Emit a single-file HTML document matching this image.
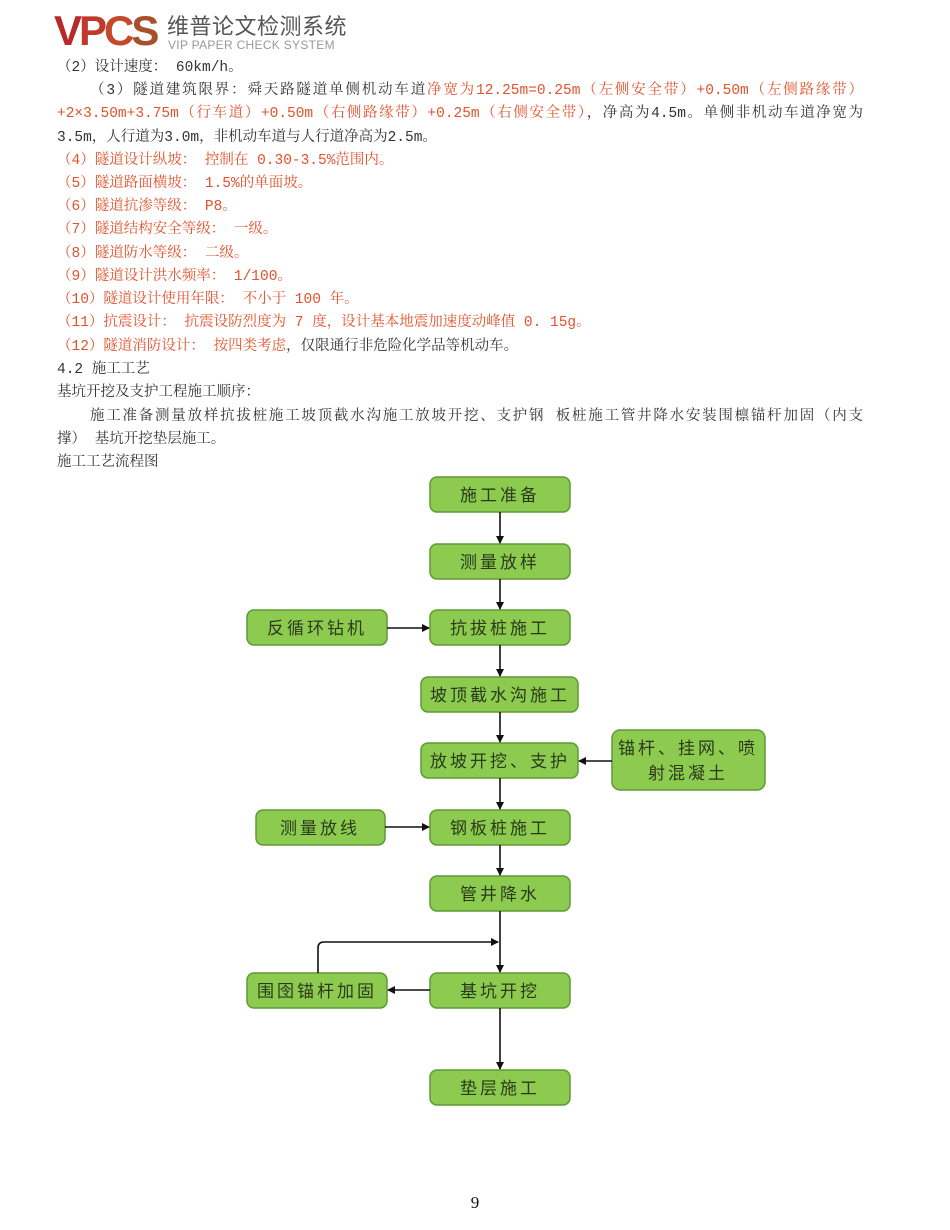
<!DOCTYPE html>
<html><head><meta charset="utf-8"><style>
body{margin:0;width:950px;height:1230px;background:#fff;position:relative;overflow:hidden;font-family:"Liberation Mono","Noto Serif CJK SC",serif;color:#333;}
.l{position:absolute;font-size:14.5px;line-height:20px;white-space:nowrap;}
.j{white-space:normal;text-align:justify;text-align-last:justify;}
.r{color:#e2532d;}
svg text{font-family:"Noto Sans CJK SC",sans-serif;font-size:17px;fill:#2a3a1a;}
</style></head><body>
<div style="position:absolute;left:54px;top:9px;font-family:'Liberation Sans',sans-serif;font-weight:bold;font-size:42px;letter-spacing:-3px;color:#b82a2a;line-height:44px">V<span style="color:#c0392b">P</span><span style="color:#c4482c">C</span><span style="color:#a6512a">S</span></div>
<div style="position:absolute;left:167px;top:11px;font-family:'Noto Sans CJK SC',sans-serif;font-size:22px;color:#555;line-height:28px;letter-spacing:0.5px">维普论文检测系统</div>
<div style="position:absolute;left:168px;top:38px;font-family:'Liberation Sans',sans-serif;font-size:12px;color:#999;line-height:14px;letter-spacing:0.3px">VIP PAPER CHECK SYSTEM</div>

<div class="l" style="left:57px;top:58px">（2）设计速度： 60km/h。</div>
<div class="l j" style="left:90px;top:81px;width:773px">（3）隧道建筑限界：舜天路隧道单侧机动车道<span class="r">净宽为12.25m=0.25m（左侧安全带）+0.50m（左侧路缘带）</span></div>
<div class="l j" style="left:57px;top:104px;width:806px"><span class="r">+2×3.50m+3.75m（行车道）+0.50m（右侧路缘带）+0.25m（右侧安全带）</span>，净高为4.5m。单侧非机动车道净宽为</div>
<div class="l" style="left:57px;top:128px">3.5m，人行道为3.0m，非机动车道与人行道净高为2.5m。</div>
<div class="l r" style="left:57px;top:151px">（4）隧道设计纵坡： 控制在 0.30-3.5%范围内。</div>
<div class="l r" style="left:57px;top:174px">（5）隧道路面横坡： 1.5%的单面坡。</div>
<div class="l r" style="left:57px;top:197px">（6）隧道抗渗等级： P8。</div>
<div class="l r" style="left:57px;top:220px">（7）隧道结构安全等级： 一级。</div>
<div class="l r" style="left:57px;top:244px">（8）隧道防水等级： 二级。</div>
<div class="l r" style="left:57px;top:267px">（9）隧道设计洪水频率： 1/100。</div>
<div class="l r" style="left:57px;top:290px">（10）隧道设计使用年限： 不小于 100 年。</div>
<div class="l r" style="left:57px;top:313px">（11）抗震设计： 抗震设防烈度为 7 度，设计基本地震加速度动峰值 0. 15g。</div>
<div class="l" style="left:57px;top:337px"><span class="r">（12）隧道消防设计： 按四类考虑</span>，仅限通行非危险化学品等机动车。</div>
<div class="l" style="left:57px;top:360px">4.2 施工工艺</div>
<div class="l" style="left:57px;top:383px">基坑开挖及支护工程施工顺序：</div>
<div class="l j" style="left:90px;top:407px;width:773px">施工准备测量放样抗拔桩施工坡顶截水沟施工放坡开挖、支护钢 板桩施工管井降水安装围檩锚杆加固（内支</div>
<div class="l" style="left:57px;top:430px">撑） 基坑开挖垫层施工。</div>
<div class="l" style="left:57px;top:453px">施工工艺流程图</div>

<svg width="950" height="1230" style="position:absolute;left:0;top:0">
<defs><marker id="a" markerWidth="8" markerHeight="8" refX="7" refY="4" orient="auto" markerUnits="userSpaceOnUse"><path d="M0,0 L8,4 L0,8z" fill="#111"/></marker></defs>
<g fill="#8ccb4f" stroke="#5e9a35" stroke-width="1.5">
<rect x="430" y="477" width="140" height="35" rx="7"/>
<rect x="430" y="544" width="140" height="35" rx="7"/>
<rect x="430" y="610" width="140" height="35" rx="7"/>
<rect x="247" y="610" width="140" height="35" rx="7"/>
<rect x="421" y="677" width="157" height="35" rx="7"/>
<rect x="421" y="743" width="157" height="35" rx="7"/>
<rect x="612" y="730" width="153" height="60" rx="8"/>
<rect x="256" y="810" width="129" height="35" rx="7"/>
<rect x="430" y="810" width="140" height="35" rx="7"/>
<rect x="430" y="876" width="140" height="35" rx="7"/>
<rect x="430" y="973" width="140" height="35" rx="7"/>
<rect x="247" y="973" width="140" height="35" rx="7"/>
<rect x="430" y="1070" width="140" height="35" rx="7"/>
</g>
<g stroke="#111" stroke-width="1.6" fill="none">
<line x1="500" y1="512" x2="500" y2="543" marker-end="url(#a)"/>
<line x1="500" y1="579" x2="500" y2="609" marker-end="url(#a)"/>
<line x1="387" y1="628" x2="429" y2="628" marker-end="url(#a)"/>
<line x1="500" y1="645" x2="500" y2="676" marker-end="url(#a)"/>
<line x1="500" y1="712" x2="500" y2="742" marker-end="url(#a)"/>
<line x1="612" y1="761" x2="579" y2="761" marker-end="url(#a)"/>
<line x1="500" y1="778" x2="500" y2="809" marker-end="url(#a)"/>
<line x1="385" y1="827" x2="429" y2="827" marker-end="url(#a)"/>
<line x1="500" y1="845" x2="500" y2="875" marker-end="url(#a)"/>
<line x1="500" y1="911" x2="500" y2="972" marker-end="url(#a)"/>
<path d="M318,973 L318,948 Q318,942 324,942 L498,942" marker-end="url(#a)"/>
<line x1="430" y1="990" x2="388" y2="990" marker-end="url(#a)"/>
<line x1="500" y1="1008" x2="500" y2="1069" marker-end="url(#a)"/>
</g>
<g text-anchor="middle" letter-spacing="3">
<text x="500" y="501">施工准备</text>
<text x="500" y="568">测量放样</text>
<text x="500" y="634">抗拔桩施工</text>
<text x="317" y="634">反循环钻机</text>
<text x="500" y="701">坡顶截水沟施工</text>
<text x="500" y="767">放坡开挖、支护</text>
<text x="688" y="754">锚杆、挂网、喷</text>
<text x="688" y="779">射混凝土</text>
<text x="320" y="834">测量放线</text>
<text x="500" y="834">钢板桩施工</text>
<text x="500" y="900">管井降水</text>
<text x="500" y="997">基坑开挖</text>
<text x="317" y="997">围囹锚杆加固</text>
<text x="500" y="1094">垫层施工</text>
</g>
<text x="475" y="1208" text-anchor="middle" style="font-family:'Liberation Serif',serif;font-size:17px;fill:#111">9</text>
</svg>
</body></html>
